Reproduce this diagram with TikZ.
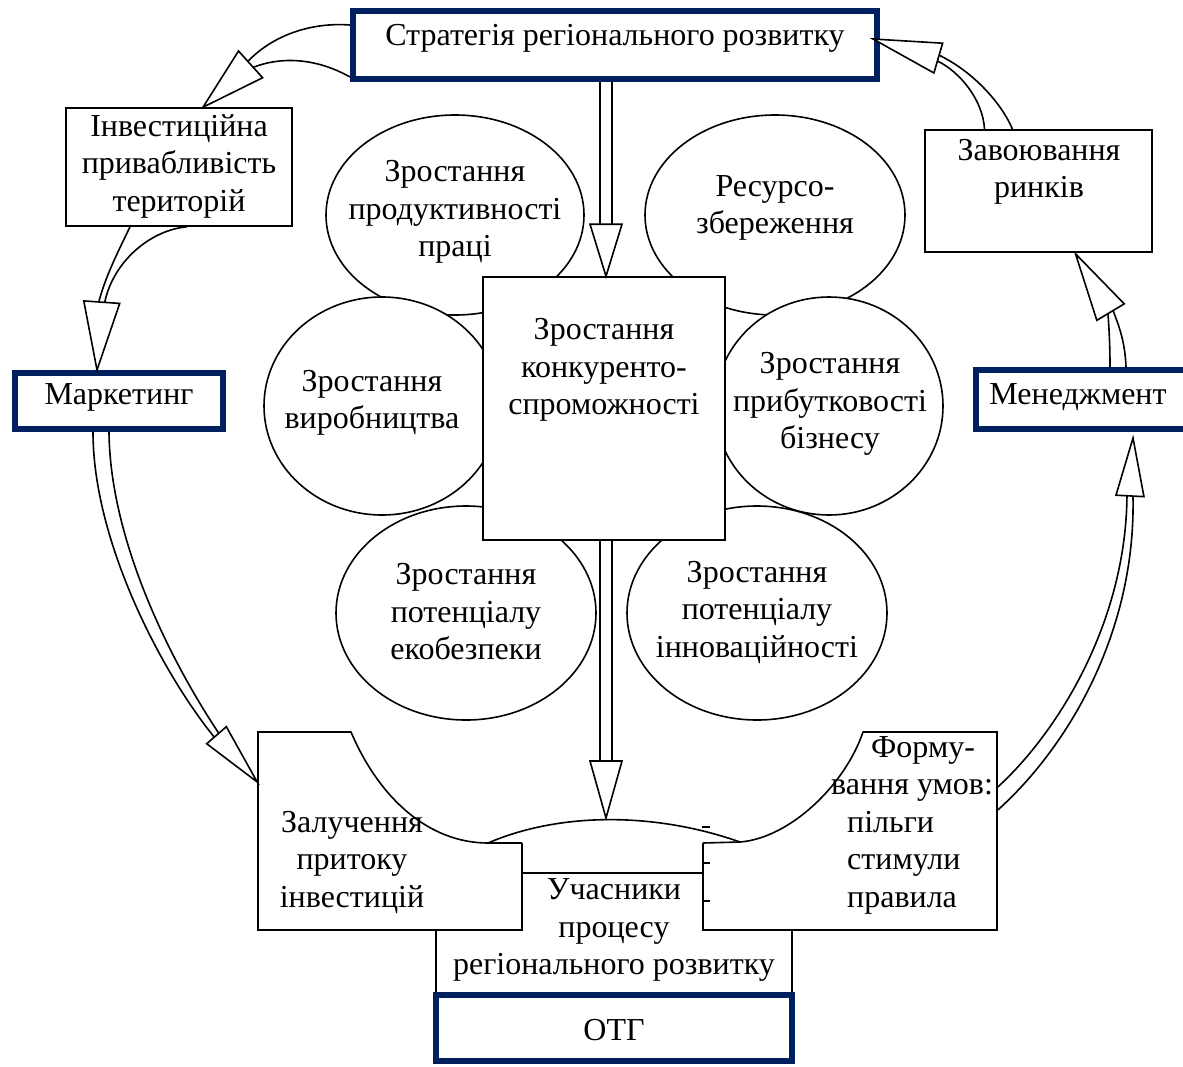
\documentclass[tikz,border=0pt]{standalone}
\usepackage{fontspec}
\setmainfont{Liberation Serif}
\usetikzlibrary{shapes.geometric,positioning,calc}
\definecolor{navy}{RGB}{0,32,96}

% hollow block arrow head: name, tip, direction, length, half width, half shaft
\newcommand{\blockhead}[6]{%
  \begin{scope}[shift={(#2)},rotate=#3]
    \draw[headtri] (0,0) -- (-#4,-#5) -- (-#4,#5) -- cycle;
    \coordinate (#1a) at (-#4,-#6);
    \coordinate (#1b) at (-#4,#6);
  \end{scope}}

\begin{document}
\begin{tikzpicture}[x=1pt,y=-1pt,
    txt/.style={align=center,inner sep=0pt,font=\fontsize{32}{37.5}\selectfont},
    box/.style={draw,line width=1.6pt,fill=white,inner sep=0pt},
    navybox/.style={draw=navy,line width=6pt,fill=white,inner sep=0pt},
    blob/.style={ellipse,draw,line width=1.6pt,fill=white,inner sep=0pt},
    shaft/.style={line width=1.6pt},
    headtri/.style={draw,line width=1.6pt,fill=white,line join=miter}]

  \useasboundingbox (0,0) rectangle (1183,1066);

  % petals round the centre
  \node[blob,minimum width=258,minimum height=200] (prod) at (455,215) {};
  \node[txt] (prod-t) at (455,212) {Зростання\\продуктивності\\праці};
  \node[blob,minimum width=260,minimum height=200] (res) at (775,215) {};
  \node[txt] (res-t) at (775,208) {Ресурсо-\\збереження};
  \node[blob,minimum width=236,minimum height=218] (vyr) at (382,406) {};
  \node[txt] (vyr-t) at (372,403) {Зростання\\виробництва};
  \node[blob,minimum width=228,minimum height=218] (prib) at (829,406) {};
  \node[txt] (prib-t) at (830,404) {Зростання\\прибутковості\\бізнесу};
  \node[blob,minimum width=260,minimum height=214] (eko) at (466,613) {};
  \node[txt] (eko-t) at (466,612) {Зростання\\потенціалу\\екобезпеки};
  \node[blob,minimum width=260,minimum height=214] (inn) at (757,613) {};
  \node[txt] (inn-t) at (757,612) {Зростання\\потенціалу\\інноваційності};

  \node[box,minimum width=242,minimum height=263] (cen) at (604,408.5) {};
  \node[txt] (cen-t) at (604,370) {Зростання\\конкуренто-\\спроможності};

  % outer ring
  \node[navybox,minimum width=524,minimum height=68] (strat) at (615,45) {};
  \node[txt] (strat-t) at (615,38) {Стратегія регіонального розвитку};
  \node[box,minimum width=226,minimum height=118] (inv) at (179,167) {};
  \node[txt] (inv-t) at (179,166) {Інвестиційна\\привабливість\\територій};
  \node[navybox,minimum width=208,minimum height=56] (mark) at (119,401) {};
  \node[txt] (mark-t) at (119,397) {Маркетинг};
  \node[box,minimum width=227,minimum height=122] (zav) at (1038.5,191) {};
  \node[txt] (zav-t) at (1039,172) {Завоювання\\ринків};
  \node[navybox,minimum width=210,minimum height=59] (men) at (1081,399.5) {};
  \node[txt] (men-t) at (1078,397) {Менеджмент};

  % bottom group
  \node[box,minimum width=356,minimum height=122] (uch) at (614,934) {};
  \node[navybox,minimum width=356,minimum height=66] (otg) at (614,1028) {};
  \node[txt] (otg-t) at (614,1030) {ОТГ};
  \node[box,minimum width=264,minimum height=198] (zal) at (390,831) {};
  \node[box,minimum width=294,minimum height=198] (form) at (850,831) {};
  \fill[white] (351,730) .. controls (380,800) and (430,843) .. (488,843)
    -- (740,843) .. controls (790,838) and (845,785) .. (863,730) -- cycle;
  \draw[shaft] (351,732) .. controls (380,800) and (430,843) .. (488,843) -- (522,843);
  \draw[shaft] (488,843) .. controls (560,812) and (655,812) .. (740,842);
  \draw[shaft] (703,843) -- (740,842) .. controls (790,838) and (845,785) .. (863,732);
  \draw[shaft] ($(form.west)+(0,-4)$) -- +(8,0);
  \draw[shaft] ($(form.west)+(0,32)$) -- +(8,0);
  \draw[shaft] ($(form.west)+(0,70)$) -- +(8,0);
  \node[txt] (uch-t) at (614,930) {Учасники\\процесу\\регіонального розвитку};
  \node[txt] (zal-t) at (352,862) {Залучення\\притоку\\інвестицій};
  \node[txt,align=left,anchor=west] (form-t) at (831,825)
    {\hspace*{40pt}Форму-\\вання умов:\\\hspace*{16pt}пільги\\\hspace*{16pt}стимули\\\hspace*{16pt}правила};

  % block arrows
  \coordinate (tA) at ($(inv.north)+(24,0)$);
  \blockhead{hA}{tA}{222}{64}{18}{4}
  \draw[shaft] ($(strat.west)+(0,-20)$) .. controls (310,22) and (272,36) .. (hAb);
  \draw[shaft] ($(strat.west)+(0,32)$) .. controls (320,60) and (285,55) .. (hAa);

  \coordinate (tB) at ($(mark.north)+(-22,0)$);
  \blockhead{hB}{tB}{266}{68}{18}{3}
  \draw[shaft] ($(inv.south)+(-49,0)$) .. controls (118,252) and (106,275) .. (hBb);
  \draw[shaft] ($(inv.south)+(8,0)$) .. controls (150,230) and (113,262) .. (hBa);

  \coordinate (tC) at ($(zal.west)+(0,-49)$);
  \blockhead{hC}{tC}{-49}{62}{13}{3}
  \draw[shaft] ($(mark.south)+(-26,0)$) .. controls (93,540) and (160,670) .. (hCb);
  \draw[shaft] ($(mark.south)+(-10,0)$) .. controls (110,540) and (170,660) .. (hCa);

  \coordinate (tD) at ($(men.south)+(52,6)$);
  \blockhead{hD}{tD}{87}{58}{14}{3}
  \draw[shaft] ($(form.east)+(0,-44)$) .. controls (1060,730) and (1126,620) .. (hDa);
  \draw[shaft] ($(form.east)+(0,-21)$) .. controls (1070,745) and (1136,630) .. (hDb);

  \coordinate (tE) at ($(zav.south)+(37,1)$);
  \blockhead{hE}{tE}{121}{68}{16}{3}
  \draw[shaft] ($(men.north)+(29,0)$) .. controls (1110,345) and (1109,328) .. (hEa);
  \draw[shaft] ($(men.north)+(45,0)$) .. controls (1125,340) and (1118,324) .. (hEb);

  \coordinate (tF) at ($(strat.east)+(-7,-6)$);
  \blockhead{hF}{tF}{163.7}{68}{15.5}{3}
  \draw[shaft] ($(zav.north)+(-54,0)$) .. controls (983,100) and (960,72) .. (hFa);
  \draw[shaft] ($(zav.north)+(-26,0)$) .. controls (1000,100) and (970,70) .. (hFb);

  \coordinate (tG) at ($(cen.north)+(2,0)$);
  \blockhead{hG}{tG}{-90}{52}{16}{6}
  \draw[shaft] (hGb |- strat.south) -- (hGb);
  \draw[shaft] (hGa |- strat.south) -- (hGa);

  \coordinate (arctop) at (606,818);
  \blockhead{hH}{arctop}{-90}{57}{16}{6}
  \draw[shaft] (hHb |- cen.south) -- (hHb);
  \draw[shaft] (hHa |- cen.south) -- (hHa);
\end{tikzpicture}
\end{document}
